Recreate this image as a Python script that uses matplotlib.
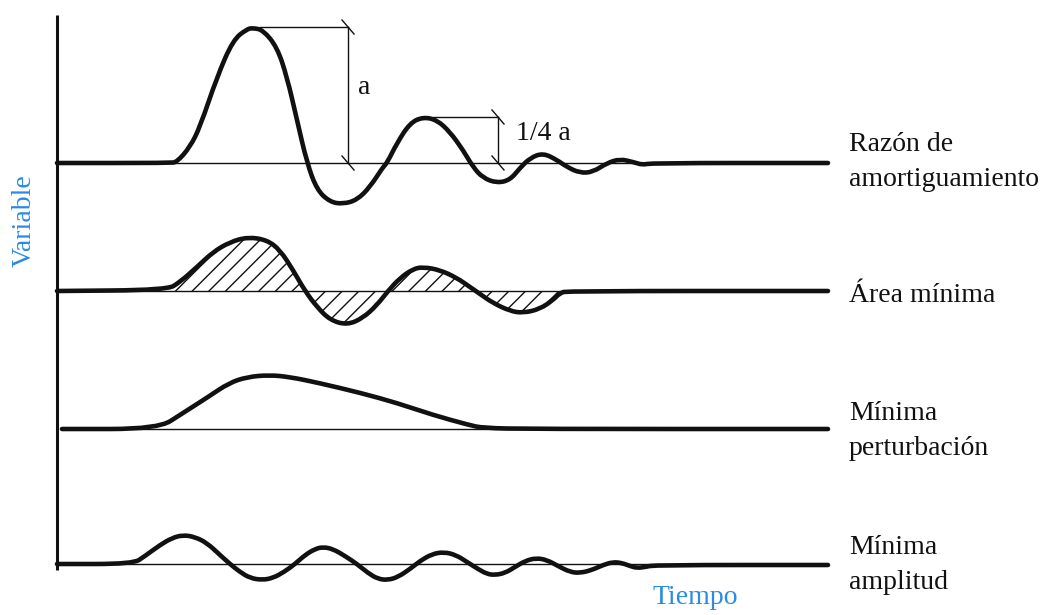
import matplotlib.pyplot as plt
from matplotlib.path import Path
from matplotlib.patches import PathPatch

# pixel coordinates (y grows downward)
baseline_y = [163, 291, 429, 564]
baseline_x0 = [57, 57, 62, 57]
baseline_x1 = 828

# Razón de amortiguamiento
r1_x = [57, 170, 177, 190, 200, 217, 233, 247, 253, 263, 277, 287, 297, 307, 317, 330, 343,
        357, 370, 383, 387, 397, 410, 423, 437, 450, 463, 473, 483, 497, 510, 520, 530, 543,
        557, 567, 580, 593, 607, 620, 633, 643, 650, 828]
r1_y = [163, 163, 162, 147, 127, 77, 40, 29, 28, 30, 47, 77, 120, 163, 190, 202, 204,
        200, 187, 167, 163, 143, 123, 117, 120, 132, 150, 167, 178, 183, 180, 168, 158, 153,
        160, 167, 173, 172, 163, 159, 162, 165, 163, 163]

# Área mínima
r2_x = [57, 167, 180, 197, 213, 230, 248, 267, 280, 293, 305, 317, 330, 347, 363, 377, 388,
        400, 413, 423, 440, 457, 470, 480, 493, 510, 523, 540, 553, 560, 567, 828]
r2_y = [291, 290, 282, 267, 252, 242, 237, 240, 250, 270, 291, 307, 320, 325, 318, 305, 291,
        278, 269, 267, 270, 278, 287, 294, 303, 311, 313, 309, 300, 293, 291, 291]

# Mínima perturbación
r3_x = [62, 158, 183, 208, 229, 247, 269, 290, 319, 361, 397, 433, 469, 483, 530, 828]
r3_y = [429, 429, 413, 397, 383, 377, 375, 377, 383, 393, 403, 415, 425, 428, 429, 429]

# Mínima amplitud
r4_x = [57, 133, 145, 160, 172, 183, 195, 207, 220, 230, 240, 250, 262, 273, 284, 295, 305,
        315, 323, 333, 345, 357, 368, 378, 388, 398, 410, 420, 432, 444, 456, 467, 478, 487,
        495, 505, 515, 525, 536, 547, 558, 570, 580, 592, 603, 613, 622, 630, 637, 645, 655,
        828]
r4_y = [564, 564, 556, 545, 538, 535, 537, 543, 555, 564, 572, 578, 580, 578, 572, 564, 555,
        549, 547, 549, 556, 564, 573, 579, 580, 577, 569, 561, 554, 552, 555, 562, 569, 574,
        575, 573, 567, 561, 558, 560, 566, 572, 573, 570, 565, 562, 563, 566, 568, 567, 565,
        565]

curves = [(r1_x, r1_y), (r2_x, r2_y), (r3_x, r3_y), (r4_x, r4_y)]

row_labels = ['Razón de\namortiguamiento', 'Área mínima', 'Mínima\nperturbación', 'Mínima\namplitud']
label_y = [162, 296, 431, 565]

# dimension marks: (x of vertical, top y, bottom y, x where horizontal starts, text, text x, text y)
dims = [(348, 27, 163, 260, 'a', 358, 88),
        (498, 117, 163, 433, '1/4 a', 516, 134)]

blue = '#2a8be2'
ink = '#111111'
serif = 'Liberation Serif'


def smooth_path(xs, ys, close_to=None):
    # quadratic bezier through midpoints, read points used as control points
    pts = list(zip(xs, ys))
    verts = [pts[0], ((pts[0][0] + pts[1][0]) / 2, (pts[0][1] + pts[1][1]) / 2)]
    codes = [Path.MOVETO, Path.LINETO]
    for i in range(1, len(pts) - 1):
        mid = ((pts[i][0] + pts[i + 1][0]) / 2, (pts[i][1] + pts[i + 1][1]) / 2)
        verts += [pts[i], mid]
        codes += [Path.CURVE3, Path.CURVE3]
    verts.append(pts[-1])
    codes.append(Path.LINETO)
    if close_to is not None:
        verts += [(xs[-1], close_to), (xs[0], close_to), pts[0]]
        codes += [Path.LINETO, Path.LINETO, Path.CLOSEPOLY]
    return Path(verts, codes)


fig = plt.figure(figsize=(10.53, 6.15), dpi=100)
ax = fig.add_axes([0, 0, 1, 1])
ax.set_xlim(0, 1053)
ax.set_ylim(615, 0)
ax.axis('off')

# vertical axis
ax.plot([57, 57], [15, 570], color=ink, lw=2.2, solid_capstyle='butt')

for y0, x0 in zip(baseline_y, baseline_x0):
    ax.plot([x0, baseline_x1], [y0, y0], color=ink, lw=1.0)

# hatched area for row 2
ax.add_patch(PathPatch(smooth_path(r2_x, r2_y, close_to=baseline_y[1]),
                       facecolor='none', edgecolor=ink, hatch='//', linewidth=0))

for xs, ys in curves:
    ax.add_patch(PathPatch(smooth_path(xs, ys), facecolor='none', edgecolor=ink,
                           lw=3.3, joinstyle='round', capstyle='round'))

for xv, yt, yb, xh, txt, tx, ty in dims:
    ax.plot([xh, xv], [yt, yt], color=ink, lw=1.0)
    ax.plot([xv, xv], [yt, yb], color=ink, lw=1.0)
    for yy in (yt, yb):
        ax.plot([xv - 6, xv + 6], [yy - 7, yy + 7], color=ink, lw=1.0)
    ax.text(tx, ty, txt, fontsize=20, family=serif, color=ink,
            ha='left', va='center')

for lab, ly in zip(row_labels, label_y):
    ax.text(849, ly, lab, fontsize=20, family=serif, color=ink,
            ha='left', va='center', linespacing=1.5)

ax.text(24, 221, 'Variable', fontsize=20, family=serif, color=blue,
        rotation=90, ha='center', va='center')
ax.text(695, 598, 'Tiempo', fontsize=20, family=serif, color=blue,
        ha='center', va='center')

fig.savefig('out.png', dpi=100)
